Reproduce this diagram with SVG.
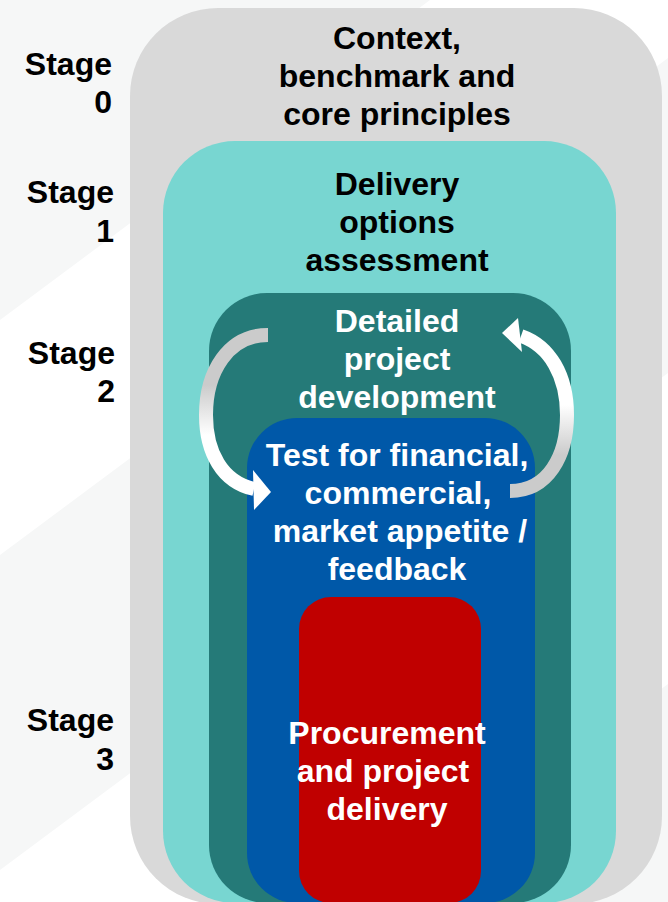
<svg xmlns="http://www.w3.org/2000/svg" width="668" height="902" viewBox="0 0 668 902">
<style>
  .t { font-family: "Liberation Sans", Arial, sans-serif; font-weight: bold; font-size: 32px; }
  .dk { fill: #000000; }
  .wh { fill: #ffffff; }
  .mid { text-anchor: middle; }
  .end { text-anchor: end; }
  .band { fill: none; stroke-width: 14; stroke-linecap: butt; }
</style>
<defs>
  <linearGradient id="gL" gradientUnits="userSpaceOnUse" x1="0" y1="385" x2="0" y2="435">
    <stop offset="0" stop-color="#cbcbcb"/>
    <stop offset="1" stop-color="#ffffff"/>
  </linearGradient>
  <linearGradient id="gR" gradientUnits="userSpaceOnUse" x1="0" y1="405" x2="0" y2="455">
    <stop offset="0" stop-color="#ffffff"/>
    <stop offset="1" stop-color="#cbcbcb"/>
  </linearGradient>
</defs>

<g id="background">
  <rect x="0" y="0" width="668" height="902" fill="#f6f7f7"/>
  <polygon points="0,320 430,0 668,0 668,58 0,555" fill="#ffffff"/>
  <polygon points="0,870 668,373 668,684 375,902 0,902" fill="#ffffff"/>
</g>

<g id="stage-labels">
  <text class="t dk end" x="112" y="75">Stage</text>
  <text class="t dk end" x="112" y="113">0</text>
  <text class="t dk end" x="114" y="203">Stage</text>
  <text class="t dk end" x="114" y="242">1</text>
  <text class="t dk end" x="115" y="364">Stage</text>
  <text class="t dk end" x="115" y="402">2</text>
  <text class="t dk end" x="114" y="731">Stage</text>
  <text class="t dk end" x="114" y="770">3</text>
</g>

<g id="stage0">
  <rect x="130" y="8" width="532" height="896" rx="88" ry="88" fill="#d9d9d9"/>
  <text class="t dk mid" x="397" y="49">Context,</text>
  <text class="t dk mid" x="397" y="87">benchmark and</text>
  <text class="t dk mid" x="397" y="125">core principles</text>
</g>

<g id="stage1">
  <rect x="163" y="141" width="453" height="762" rx="72" ry="72" fill="#78d6d1"/>
  <text class="t dk mid" x="397" y="195">Delivery</text>
  <text class="t dk mid" x="397" y="233">options</text>
  <text class="t dk mid" x="397" y="271">assessment</text>
</g>

<g id="stage2">
  <rect x="209" y="293" width="362" height="610" rx="58" ry="58" fill="#257a78"/>
  <text class="t wh mid" x="397" y="332">Detailed</text>
  <text class="t wh mid" x="397" y="370">project</text>
  <text class="t wh mid" x="397" y="408">development</text>
</g>

<g id="test">
  <rect x="247" y="418" width="288" height="485" rx="50" ry="50" fill="#0058a8"/>
  <text class="t wh mid" x="397" y="466">Test for financial,</text>
  <text class="t wh mid" x="398" y="504">commercial,</text>
  <text class="t wh mid" x="400" y="542">market appetite /</text>
  <text class="t wh mid" x="397" y="580">feedback</text>
</g>

<g id="stage3">
  <rect x="299" y="597" width="182" height="306" rx="32" ry="32" fill="#c00000"/>
  <text class="t wh mid" x="387" y="744">Procurement</text>
  <text class="t wh mid" x="383" y="782">and project</text>
  <text class="t wh mid" x="387" y="820">delivery</text>
</g>

<g id="connectors">
  <path class="band" stroke="url(#gL)" d="M 268 335 C 228 335 206 372 206 415 C 206 452 222 482 254 489"/>
  <polygon points="253,470 271,492 254,510" fill="#ffffff"/>
  <path class="band" stroke="url(#gR)" d="M 510 491 C 548 491 567 456 567 415 C 567 376 550 346 521 336"/>
  <polygon points="518,318 502,333 522,352" fill="#ffffff"/>
</g>
</svg>
